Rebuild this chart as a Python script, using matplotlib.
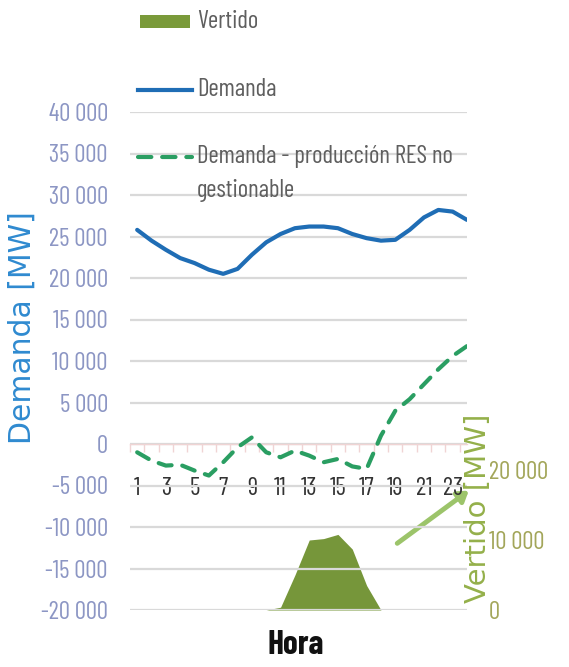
import matplotlib
matplotlib.use("Agg")
import matplotlib.pyplot as plt
from matplotlib.ticker import FuncFormatter, FixedLocator
from matplotlib.lines import Line2D
from matplotlib.patches import Rectangle, FancyArrowPatch
import numpy as np

hours = list(range(1, 25))
hour_labels = [str(h) if h % 2 == 1 else "" for h in hours]
demanda = [25800, 24500, 23400, 22400, 21800, 21000, 20500, 21100, 22800, 24300,
           25300, 26000, 26200, 26200, 26000, 25300, 24800, 24500, 24600, 25800,
           27300, 28200, 28000, 27000]
demanda_res = [-1000, -2000, -2600, -2500, -3200, -3800, -2200, -400, 800, -1000,
               -1600, -800, -1400, -2200, -1800, -2700, -3000, 1000, 4000, 5400,
               7200, 9000, 10600, 11800]
vertido = [0, 0, 0, 0, 0, 0, 0, 0, 0, 0,
           400, 5000, 10000, 10200, 10800, 8700, 3500, 0, 0, 0,
           0, 0, 0, 0]
left_ticks = list(range(-20000, 40001, 5000))
right_ticks = [0, 10000, 20000]
legend_labels = ["Vertido", "Demanda", "Demanda - producción RES no", "gestionable"]

C_DEM = "#1f6db5"
C_RES = "#2a9e62"
C_VERT = "#76963a"

W, H = 569, 667
fig = plt.figure(figsize=(W / 100, H / 100), dpi=100)
fig.patch.set_facecolor("white")

COND = ["Barlow Condensed", "DejaVu Sans"]
GEO = ["DejaVu Sans"]

x0, x1 = 130, 467
ytop, ybot = 112, 610
ax = fig.add_axes([x0 / W, (H - ybot) / H, (x1 - x0) / W, (ybot - ytop) / H])
ax.set_facecolor("none")
ax2 = ax.twinx()
ax.set_zorder(ax2.get_zorder() + 1)

def fmt(v, pos=None):
    s = f"{abs(int(v)):,}".replace(",", " ")
    return ("-" if v < 0 else "") + s

# secondary axis: Vertido area
ax2.fill_between(hours, vertido, 0, color=C_VERT, lw=0, zorder=1)
ax2.set_ylim(0, 498 / 70 * 10000)
ax2.yaxis.set_major_locator(FixedLocator(right_ticks))
ax2.yaxis.set_major_formatter(FuncFormatter(fmt))
ax2.tick_params(axis="y", length=0, pad=16, labelsize=18, labelcolor="#a3a65a")
for lab in ax2.get_yticklabels():
    lab.set_family(COND)

# primary axis
ax.set_xlim(0.5, 24.0)
ax.set_ylim(-20000, 40000)
ax.yaxis.set_major_locator(FixedLocator(left_ticks))
ax.yaxis.set_major_formatter(FuncFormatter(fmt))
ax.grid(axis="y", color="#d9d9d9", lw=1.6, zorder=0)
ax.set_axisbelow(True)

ax.plot(hours, demanda, color=C_DEM, lw=3.0, solid_capstyle="round",
        solid_joinstyle="round", zorder=3)
ax.plot(hours, demanda_res, color=C_RES, lw=3.0, dashes=(3.2, 2.6),
        dash_capstyle="round", zorder=3)

# x axis at value 0
ax.spines["bottom"].set_position(("data", 0))
ax.spines["bottom"].set_color("#f0d4d4")
ax.spines["bottom"].set_linewidth(1.0)
ax.set_xticks(hours)
ax.set_xticklabels(hour_labels)
ax.set_xticks(np.arange(0.5, 24.5, 1.0), minor=True)
ax.tick_params(axis="x", which="major", length=0, pad=24, labelsize=18,
               labelcolor="#333333")
ax.tick_params(axis="x", which="minor", length=6, width=1.0, color="#f0d4d4",
               direction="out")
for lab in ax.get_xticklabels():
    lab.set_family(COND)

ax.tick_params(axis="y", length=0, pad=16, labelsize=18, labelcolor="#8c96c4")
for lab in ax.get_yticklabels():
    lab.set_family(COND)

for name in ("top", "left", "right"):
    ax.spines[name].set_visible(False)
for s in ax2.spines.values():
    s.set_visible(False)

# axis titles
fig.text(22 / W, 1 - 328 / H, "Demanda [MW]", rotation=90, ha="center", va="center",
         color="#2f8ad0", fontsize=21.5, family=GEO)
fig.text(478 / W, 1 - 508 / H, "Vertido [MW]", rotation=90, ha="center", va="center",
         color="#94b04a", fontsize=21, family=GEO)
fig.text(296 / W, 1 - 645 / H, "Hora", ha="center", va="center", color="#111111",
         fontsize=24, fontweight="bold", family=COND)

# arrow
fig.add_artist(FancyArrowPatch(
    (395 / W, 1 - 545 / H), (471 / W, 1 - 489 / H), transform=fig.transFigure,
    arrowstyle="-|>,head_length=6,head_width=4", color="#9cc46a", lw=3.5))

# legend (drawn manually to match layout)
tf = fig.transFigure
fig.add_artist(Rectangle((140 / W, 1 - 28 / H), 50 / W, 13 / H, transform=tf,
                         facecolor="#7a9a3a", edgecolor="none"))
fig.add_artist(Line2D([138 / W, 192 / W], [1 - 90 / H, 1 - 90 / H], transform=tf,
                      color=C_DEM, lw=3.0))
fig.add_artist(Line2D([138 / W, 192 / W], [1 - 157 / H, 1 - 157 / H], transform=tf,
                      color=C_RES, lw=3.0, dashes=(3.2, 2.6), dash_capstyle="round"))
leg_y = [22, 90, 157, 190]
for lbl, yy in zip(legend_labels, leg_y):
    fig.text(197 / W, 1 - yy / H, lbl, ha="left", va="center", color="#5f5f5f",
             fontsize=18, family=COND)

fig.savefig("out.png", dpi=100, facecolor="white")
